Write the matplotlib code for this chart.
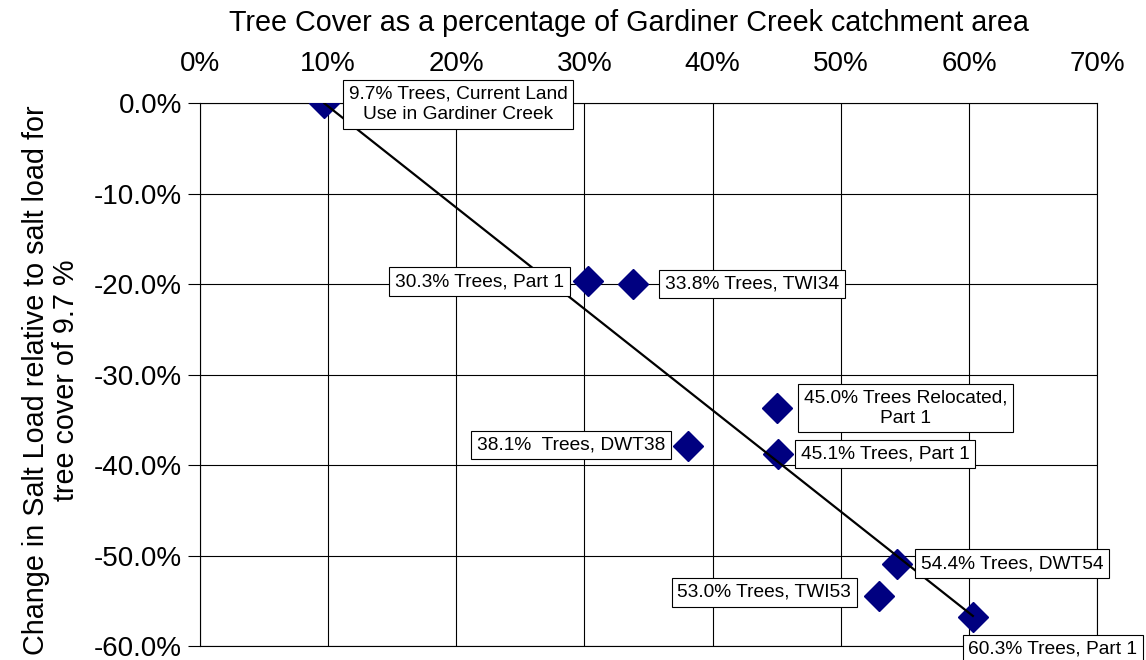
import numpy as np
import matplotlib.pyplot as plt
from matplotlib.ticker import FuncFormatter, MultipleLocator

plt.rcParams['font.family'] = ['Liberation Sans', 'DejaVu Sans']

# tree cover (%) and change in salt load (%)
tree_cover = [9.7, 30.3, 33.8, 38.1, 45.0, 45.1, 54.4, 53.0, 60.3]
salt_change = [0.0, -19.6, -20.0, -37.9, -33.7, -38.8, -50.9, -54.5, -56.8]
labels = ["9.7% Trees, Current Land\nUse in Gardiner Creek",
          "30.3% Trees, Part 1",
          "33.8% Trees, TWI34",
          "38.1%  Trees, DWT38",
          "45.0% Trees Relocated,\nPart 1",
          "45.1% Trees, Part 1",
          "54.4% Trees, DWT54",
          "53.0% Trees, TWI53",
          "60.3% Trees, Part 1"]
# label offsets from each point, in pixels
label_dx = [134, -109, 119, -117, 129, 107, 115, -115, 80]
label_dy = [-1, -1, 0, 1, 0, 0, 0, 4, -32]

x = np.array(tree_cover)
y = np.array(salt_change)

# linear trend forced through the current land use point
dx = x - x[0]
slope = np.sum(dx * (y - y[0])) / np.sum(dx ** 2)
xt = np.array([x.min(), x.max()])
yt = y[0] + slope * (xt - x[0])

fig = plt.figure(figsize=(11.46, 6.6), dpi=100)
ax = fig.add_axes([0.1745, 0.0212, 0.9574 - 0.1745, 0.8435 - 0.0212])

ax.plot(x, y, linestyle='none', marker='D', markersize=15.5,
        color='#000080', zorder=3)
ax.plot(xt, yt, color='black', lw=1.6, zorder=4)

for xi, yi, lab, ox, oy in zip(x, y, labels, label_dx, label_dy):
    ax.annotate(lab, (xi, yi), xytext=(ox, oy), textcoords='offset pixels',
                ha='center', va='center', multialignment='center',
                fontsize=13.8, zorder=5, annotation_clip=False,
                linespacing=1.25,
                bbox=dict(boxstyle='square,pad=0.3', fc='white', ec='black', lw=0.8))

ax.set_xlim(0, 70)
ax.set_ylim(-60, 0)
ax.xaxis.set_major_locator(MultipleLocator(10))
ax.yaxis.set_major_locator(MultipleLocator(10))
ax.xaxis.set_major_formatter(FuncFormatter(lambda v, p: f"{v:.0f}%"))
ax.yaxis.set_major_formatter(FuncFormatter(lambda v, p: f"{v:.1f}%" if v != 0 else "0.0%"))
ax.xaxis.tick_top()
ax.xaxis.set_label_position('top')
ax.tick_params(axis='x', length=0, labelsize=20, pad=19)
ax.tick_params(axis='y', length=9, width=0.8, labelsize=20, pad=4)
ax.grid(True, color='black', lw=0.8)
ax.set_axisbelow(True)
for s in ax.spines.values():
    s.set_color('black')
    s.set_linewidth(0.8)

ax.set_xlabel("Tree Cover as a percentage of Gardiner Creek catchment area",
              fontsize=20.7, labelpad=14)
ax.xaxis.label.set_x((629 - 200) / 897)
ax.set_ylabel("Change in Salt Load relative to salt load for\ntree cover of 9.7 %",
              fontsize=20.7, labelpad=10, linespacing=1.1)
ax.yaxis.label.set_y(0.49)

fig.savefig('out.png', dpi=100)
